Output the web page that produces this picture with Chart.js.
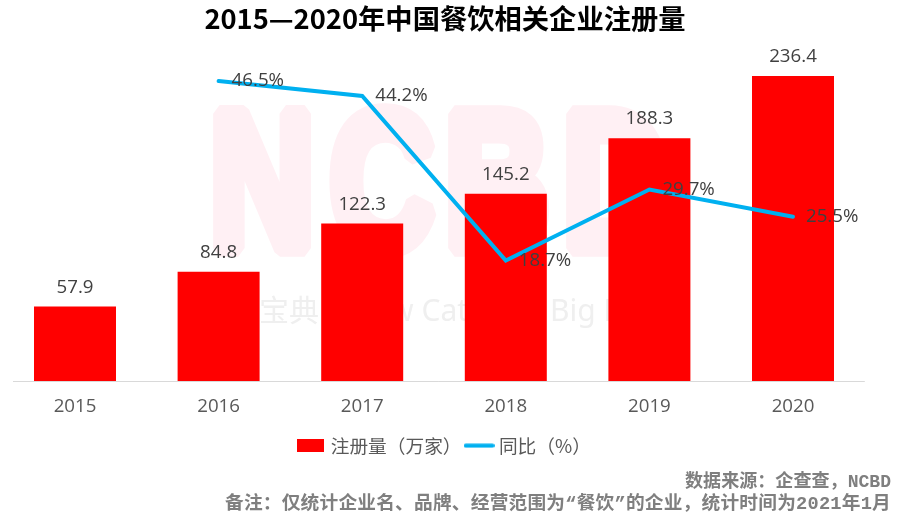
<!DOCTYPE html>
<html>
<head>
<meta charset="utf-8">
<style>
  html, body { margin: 0; padding: 0; background: #fff; }
  canvas { display: block; }
</style>
<script src="https://cdn.jsdelivr.net/npm/chart.js@4/dist/chart.umd.min.js"></script>
</head>
<body>
<canvas id="chart" width="903" height="519"></canvas>
<script>
// Chart data
const years = ['2015', '2016', '2017', '2018', '2019', '2020'];
const registrations = [57.9, 84.8, 122.3, 145.2, 188.3, 236.4];
const growthRates = [null, 46.5, 44.2, 18.7, 29.7, 25.5];

// Texts
const titleText = '2015—2020年中国餐饮相关企业注册量';
const barLegend = '注册量（万家）';
const lineLegend = '同比（%）';
const sourceNote = '数据来源：企查查，NCBD';
const remarkNote = '备注：仅统计企业名、品牌、经营范围为“餐饮”的企业，统计时间为2021年1月';

const RED = '#FF0000';
const BLUE = '#00B0F0';
const CJK = '"Noto Sans CJK SC"';
const LATIN = '"Open Sans", ' + CJK;

// Legend swatches are small canvases, the legend draws them as point styles
function makeSwatch(w, h, paint) {
    const c = document.createElement('canvas');
    c.width = w;
    c.height = h;
    paint(c.getContext('2d'));
    return c;
}

const barSwatch = makeSwatch(27, 13, ctx => {
    ctx.fillStyle = RED;
    ctx.fillRect(0, 0, 27, 13);
});

const lineSwatch = makeSwatch(31, 5, ctx => {
    ctx.strokeStyle = BLUE;
    ctx.lineWidth = 4;
    ctx.lineCap = 'round';
    ctx.beginPath();
    ctx.moveTo(2, 2.5);
    ctx.lineTo(29, 2.5);
    ctx.stroke();
});

// Watermark behind the marks
const watermarkPlugin = {
    id: 'watermark',
    beforeDatasetsDraw(chart) {
        const ctx = chart.ctx;
        ctx.save();
        ctx.textBaseline = 'alphabetic';
        ctx.textAlign = 'left';
        ctx.fillStyle = '#FFF0F4';
        ctx.strokeStyle = '#FFF0F4';
        ctx.lineWidth = 17.5;
        ctx.lineJoin = 'bevel';
        ctx.font = 'bold 195px "Liberation Sans"';
        [['N', 210], ['C', 330], ['B', 445], ['D', 563]].forEach(([letter, x]) => {
            ctx.save();
            ctx.translate(x, 248);
            ctx.scale(0.74, 1);
            ctx.fillText(letter, 0, 0);
            ctx.strokeText(letter, 0, 0);
            ctx.restore();
        });
        ctx.fillStyle = '#EFEFEF';
        ctx.font = '30px ' + CJK;
        ctx.fillText('餐宝典', 229, 321);
        ctx.font = '30px "Noto Sans"';
        ctx.fillText('New Catering Big Data', 351, 321);
        ctx.restore();
    }
};

// Title, baseline, value labels and notes
const annotationPlugin = {
    id: 'annotations',
    afterDatasetsDraw(chart) {
        const ctx = chart.ctx;
        const baseY = Math.round(chart.scales.y.getPixelForValue(0)) + 0.5;

        ctx.save();
        ctx.strokeStyle = '#D9D9D9';
        ctx.lineWidth = 1;
        ctx.beginPath();
        ctx.moveTo(13, baseY);
        ctx.lineTo(864.8, baseY);
        ctx.stroke();

        ctx.textBaseline = 'middle';
        ctx.fillStyle = '#404040';
        ctx.font = '18.7px ' + LATIN;
        ctx.textAlign = 'center';
        chart.getDatasetMeta(0).data.forEach((bar, i) => {
            ctx.fillText(registrations[i].toFixed(1), bar.x, bar.y - 19);
        });
        ctx.textAlign = 'left';
        chart.getDatasetMeta(1).data.forEach((pt, i) => {
            if (growthRates[i] === null) return;
            ctx.fillText(growthRates[i].toFixed(1) + '%', pt.x + 13, pt.y);
        });

        ctx.fillStyle = '#000000';
        ctx.font = 'bold 27.3px ' + CJK;
        ctx.textAlign = 'center';
        ctx.fillText(titleText, 445, 19);

        ctx.fillStyle = '#7F7F7F';
        ctx.font = 'bold 18.7px "Liberation Mono", ' + CJK;
        ctx.textAlign = 'right';
        ctx.fillText(sourceNote, 891, 482, 206);
        ctx.letterSpacing = '0.22px';
        ctx.fillText(remarkNote, 891, 504, 666);
        ctx.restore();
    }
};

new Chart(document.getElementById('chart').getContext('2d'), {
    data: {
        labels: years,
        datasets: [
            {
                type: 'bar',
                label: barLegend,
                data: registrations,
                yAxisID: 'y',
                backgroundColor: RED,
                categoryPercentage: 1,
                barPercentage: 0.571,
                order: 2
            },
            {
                type: 'line',
                label: lineLegend,
                data: growthRates,
                yAxisID: 'y1',
                borderColor: BLUE,
                borderWidth: 4,
                borderCapStyle: 'round',
                borderJoinStyle: 'miter',
                pointRadius: 0,
                tension: 0,
                order: 1
            }
        ]
    },
    options: {
        responsive: false,
        animation: false,
        devicePixelRatio: 1,
        layout: {
            padding: { left: 3.2, right: 15, top: 58.5, bottom: 54 }
        },
        scales: {
            x: {
                grid: { display: false },
                border: { display: false },
                ticks: {
                    color: '#595959',
                    font: { family: LATIN, size: 18.7 },
                    padding: 6,
                    maxRotation: 0
                },
                afterFit(scale) {
                    scale.height = 48;
                }
            },
            y: {
                display: false,
                min: 0,
                max: 250
            },
            y1: {
                position: 'right',
                min: 0,
                max: 50,
                grid: { display: false },
                border: { display: false },
                ticks: { display: false },
                afterFit(scale) {
                    scale.width = 23.2;
                }
            }
        },
        plugins: {
            title: { display: false },
            tooltip: { enabled: false },
            legend: {
                position: 'bottom',
                labels: {
                    usePointStyle: true,
                    pointStyleWidth: 21,
                    boxHeight: 18,
                    padding: 7,
                    color: '#595959',
                    font: { family: CJK, size: 18.7 },
                    generateLabels() {
                        return [
                            { text: barLegend, pointStyle: barSwatch, fontColor: '#595959', lineWidth: 0, datasetIndex: 0 },
                            { text: lineLegend, pointStyle: lineSwatch, fontColor: '#595959', lineWidth: 0, datasetIndex: 1 }
                        ];
                    }
                }
            }
        }
    },
    plugins: [watermarkPlugin, annotationPlugin]
});
</script>
</body>
</html>
